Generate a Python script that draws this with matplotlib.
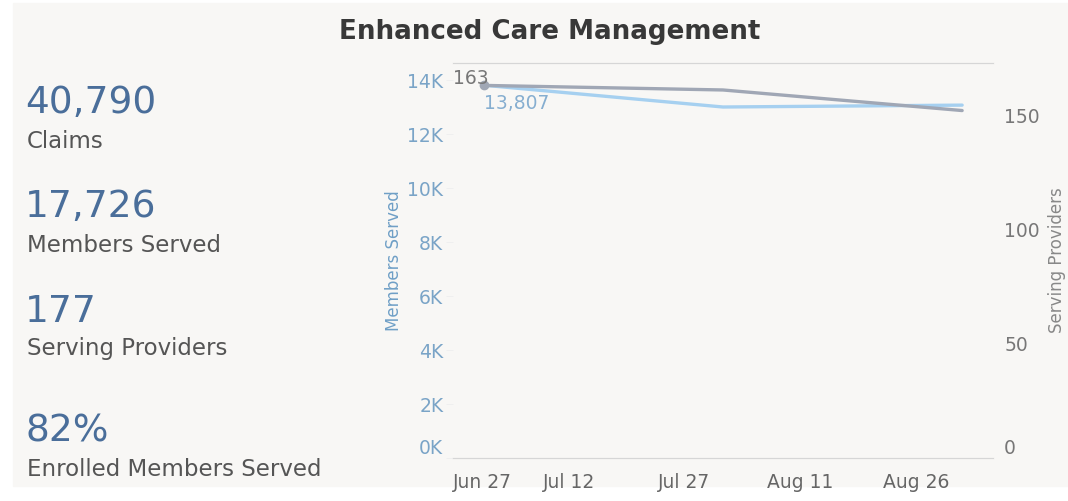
import datetime as dt
import matplotlib
matplotlib.use('Agg')
import matplotlib.pyplot as plt
import matplotlib.dates as mdates
import matplotlib.transforms as mtransforms
from matplotlib.patches import Rectangle
from matplotlib.ticker import FuncFormatter

# data
months = [dt.date(2023, 7, 1), dt.date(2023, 8, 1), dt.date(2023, 9, 1)]
members_served = [13807, 13000, 13070]
serving_providers = [163, 161, 152]

kpi_values = ['40,790', '17,726', '177', '82%']
kpi_labels = ['Claims', 'Members Served', 'Serving Providers', 'Enrolled Members Served']

x_ticks = [dt.date(2023, 6, 27), dt.date(2023, 7, 12), dt.date(2023, 7, 27),
           dt.date(2023, 8, 11), dt.date(2023, 8, 26)]
left_ticks = [0, 2000, 4000, 6000, 8000, 10000, 12000, 14000]
right_ticks = [0, 50, 100, 150]

plt.rcParams['font.family'] = ['DejaVu Sans']

W, H = 1068, 501
fig = plt.figure(figsize=(W / 100, H / 100), dpi=100, facecolor='white')

# light panel behind everything
fig.patches.append(Rectangle((13 / W, (H - 486) / H), (W - 13) / W, 483 / H,
                             transform=fig.transFigure, color='#f8f7f5', zorder=-5))

def fx(px) :
    return px / W

def fy(py) :
    return 1 - py / H

fig.text(fx(550), fy(32), 'Enhanced Care Management', ha='center', va='center',
         fontsize=18.8, fontweight='bold', color='#383838')

# KPI block
value_y = [103, 207, 312, 432]
label_y = [142, 245, 349, 470]
for i in range(len(kpi_values)) :
    fig.text(fx(25), fy(value_y[i]), kpi_values[i], ha='left', va='center',
             fontsize=27, color='#4a6e9a')
    fig.text(fx(27), fy(label_y[i]), kpi_labels[i], ha='left', va='center',
             fontsize=16.5, color='#555555')

# chart
ax = fig.add_axes([fx(453), fy(458), fx(993) - fx(453), (458 - 63) / H])
ax.set_facecolor('none')
ax2 = ax.twinx()

ax.plot(months, members_served, color='#a6d0f0', lw=2.4, solid_capstyle='round', zorder=3)
ax2.plot(months, serving_providers, color='#a0a7b5', lw=2.4, solid_capstyle='round', zorder=3)
ax2.plot(months[:1], serving_providers[:1], 'o', color='#a0a7b5', ms=6, zorder=4)

ax.set_ylim(0, 14630)
ax2.set_ylim(0, 172.8)
ax.set_xlim(dt.date(2023, 6, 27), dt.date(2023, 6, 27) + dt.timedelta(days=70))

ax.set_xticks(x_ticks)
ax.xaxis.set_major_formatter(mdates.DateFormatter('%b %-d'))
ax.set_yticks(left_ticks)
ax.yaxis.set_major_formatter(FuncFormatter(lambda v, p : '%dK' % (v / 1000)))
ax2.set_yticks(right_ticks)

for a in (ax, ax2) :
    for side in ('left', 'right') :
        a.spines[side].set_visible(False)
    a.spines['top'].set_color('#d6d6d6')
    a.spines['bottom'].set_color('#d6d6d6')

ax.tick_params(axis='x', length=0, pad=11, labelsize=13.5, labelcolor='#666666')
ax.tick_params(axis='y', length=5, width=0.6, color='#eeeeee', pad=2,
               labelsize=13.5, labelcolor='#7aa4c7')
ax2.tick_params(axis='y', length=0, pad=8, labelsize=13.5, labelcolor='#777777')

# tableau pushes the edge labels inwards
xlabels = ax.get_xticklabels()
xlabels[0].set_horizontalalignment('left')
up = mtransforms.ScaledTranslation(0, 12 / 100, fig.dpi_scale_trans)
ax.get_yticklabels()[0].set_transform(ax.get_yticklabels()[0].get_transform() + up)
ax2.get_yticklabels()[0].set_transform(ax2.get_yticklabels()[0].get_transform() + up)

ax.set_ylabel('Members Served', color='#6f9fc6', fontsize=12, labelpad=3)
ax2.set_ylabel('Serving Providers', color='#888888', fontsize=12, labelpad=6)

ax2.annotate(str(serving_providers[0]), (months[0], serving_providers[0]),
             xytext=(-22, 5), textcoords='offset points', ha='left', va='center',
             fontsize=13.5, color='#777777', zorder=5)
ax.annotate('{:,}'.format(members_served[0]), (months[0], members_served[0]),
            xytext=(0, -13), textcoords='offset points', ha='left', va='center',
            fontsize=13.5, color='#86aed0', zorder=5)

fig.savefig('out.png', dpi=100, facecolor=fig.get_facecolor())
